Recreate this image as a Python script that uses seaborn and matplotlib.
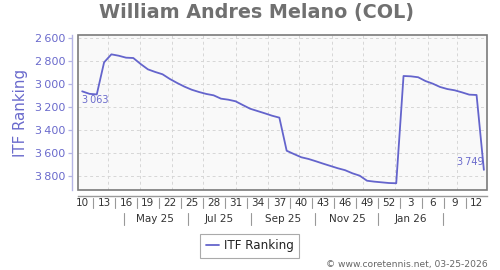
import matplotlib
matplotlib.use("Agg")
import matplotlib.pyplot as plt
import matplotlib.dates as mdates
import matplotlib.transforms as mtrans
from matplotlib.patches import Rectangle
import pandas as pd
import seaborn as sns

# ---------------- data ----------------
start_date = "2025-03-07"          # first weekly ranking (ISO week 10, 2025)
rank = [3063, 3085, 3090, 2810, 2740, 2752, 2769, 2772, 2824, 2871,
        2894, 2914, 2955, 2990, 3022, 3049, 3069, 3086, 3098, 3127,
        3136, 3150, 3183, 3215, 3235, 3255, 3276, 3293, 3582, 3611,
        3639, 3654, 3674, 3695, 3715, 3735, 3752, 3779, 3800, 3844,
        3852, 3858, 3864, 3866, 2929, 2932, 2940, 2973, 2996, 3025,
        3043, 3054, 3072, 3092, 3095, 3749]
week_tick_labels = ["10", "13", "16", "19", "22", "25", "28", "31", "34", "37",
                    "40", "43", "46", "49", "52", "3", "6", "9", "12"]
month_labels = ["May 25", "Jul 25", "Sep 25", "Nov 25", "Jan 26"]
month_label_dates = ["2025-05-16", "2025-07-16", "2025-09-16", "2025-11-16", "2026-01-16"]
month_sep_dates = ["2025-04-16", "2025-06-16", "2025-08-16", "2025-10-16",
                   "2025-12-16", "2026-02-16"]
y_ticks = [2600, 2800, 3000, 3200, 3400, 3600, 3800]
title = "William Andres Melano (COL)"
series_name = "ITF Ranking"
credit = "\u00a9 www.coretennis.net, 03-25-2026"

dates = pd.date_range(start_date, periods=len(rank), freq="7D")
df = pd.DataFrame({"date": dates, series_name: rank})

# ---------------- style ----------------
sns.set_style("white")
plt.rcParams["font.family"] = ["DejaVu Sans"]

LINE = "#6464cc"
BLUE_TXT = "#6a6acc"
AXIS_LAV = "#b4b4e4"

W, H = 500, 270
fig = plt.figure(figsize=(W / 100, H / 100), dpi=100)
L, R, T, B = 78, 487, 35, 190
ax = fig.add_axes([L / W, 1 - B / H, (R - L) / W, (B - T) / H])
ax.set_facecolor("#f9f9f9")

sns.lineplot(data=df, x="date", y=series_name, ax=ax, color=LINE, lw=1.3,
             label=series_name, legend=False, zorder=4)

ax.set_ylim(3925, 2571)
ax.set_xlim(pd.Timestamp("2025-03-03"), pd.Timestamp("2026-03-30"))

# grid: monthly vertical, per-tick horizontal
ax.xaxis.set_major_locator(mdates.MonthLocator())
ax.set_yticks(y_ticks)
ax.set_yticklabels([f"{v:,}".replace(",", "\u2009") for v in y_ticks])
ax.grid(True, ls=(0, (3, 3)), color="#d6d6d6", lw=0.7)
ax.set_axisbelow(True)

ax.tick_params(axis="x", length=0, labelbottom=False)
ax.tick_params(axis="y", length=3.2, width=0.9, color=AXIS_LAV, labelcolor=BLUE_TXT,
               labelsize=8, pad=2, left=True)

for s in ("top", "right"):
    ax.spines[s].set_visible(False)
ax.spines["left"].set_position(("outward", 4))
ax.spines["left"].set_color(AXIS_LAV)
ax.spines["left"].set_linewidth(1.0)
ax.spines["bottom"].set_position(("outward", 4))
ax.spines["bottom"].set_color("#9a9a9a")
ax.spines["bottom"].set_linewidth(1.0)

ax.add_patch(Rectangle((0, 0), 1, 1, transform=ax.transAxes, fill=False,
                       ec="#7a7a7a", lw=1.2, clip_on=False, zorder=6))

ax.set_xlabel("")
ax.set_ylabel("")
fig.text(20.7 / W, 1 - 112.5 / H, series_name, rotation=90, ha="center", va="center",
         fontsize=10.8, color=BLUE_TXT)

# x-axis rows
blend = mtrans.blended_transform_factory(ax.transData, ax.transAxes)
tick_dates = dates[::3]
for d, lab in zip(tick_dates, week_tick_labels):
    ax.text(d, -0.084, lab, transform=blend, ha="center", va="center",
            fontsize=7.5, color="#333333", clip_on=False)
for a, b in zip(tick_dates[:-1], tick_dates[1:]):
    m = a + (b - a) / 2
    ax.plot([m, m], [-0.052, -0.116], transform=blend, color="#999999", lw=0.8,
            clip_on=False)
for d, lab in zip(month_label_dates, month_labels):
    ax.text(pd.Timestamp(d), -0.187, lab, transform=blend, ha="center", va="center",
            fontsize=7.5, color="#333333", clip_on=False)
for d in month_sep_dates:
    m = pd.Timestamp(d)
    ax.plot([m, m], [-0.148, -0.226], transform=blend, color="#999999", lw=0.8,
            clip_on=False)

# value labels
fmt = lambda v: f"{v:,}".replace(",", "\u2009")
ax.annotate(fmt(rank[0]), xy=(dates[0], rank[0]), xytext=(0, -6),
            textcoords="offset points", ha="left", va="center", fontsize=7,
            color=BLUE_TXT)
ax.annotate(fmt(rank[-1]), xy=(dates[-1], rank[-1]), xytext=(0, 6),
            textcoords="offset points", ha="right", va="center", fontsize=7,
            color=BLUE_TXT)

# title, legend, credit
fig.text(256.5 / W, 1 - 12.5 / H, title, ha="center", va="center", fontsize=13.8,
         fontweight="bold", color="#707070")
leg = ax.legend(loc="center", bbox_to_anchor=(249.7 / W, 1 - 245.8 / H),
                bbox_transform=fig.transFigure, fontsize=8.6, frameon=True,
                fancybox=False, edgecolor="#aaaaaa", framealpha=1,
                handlelength=1.1, handletextpad=0.45, borderpad=0.45)
leg.get_frame().set_linewidth(0.8)
for t in leg.get_texts():
    t.set_color("#222222")
fig.text(488 / W, 1 - 265 / H, credit, ha="right", va="center", fontsize=6.6,
         color="#666666")

fig.savefig("out.png", dpi=100)
